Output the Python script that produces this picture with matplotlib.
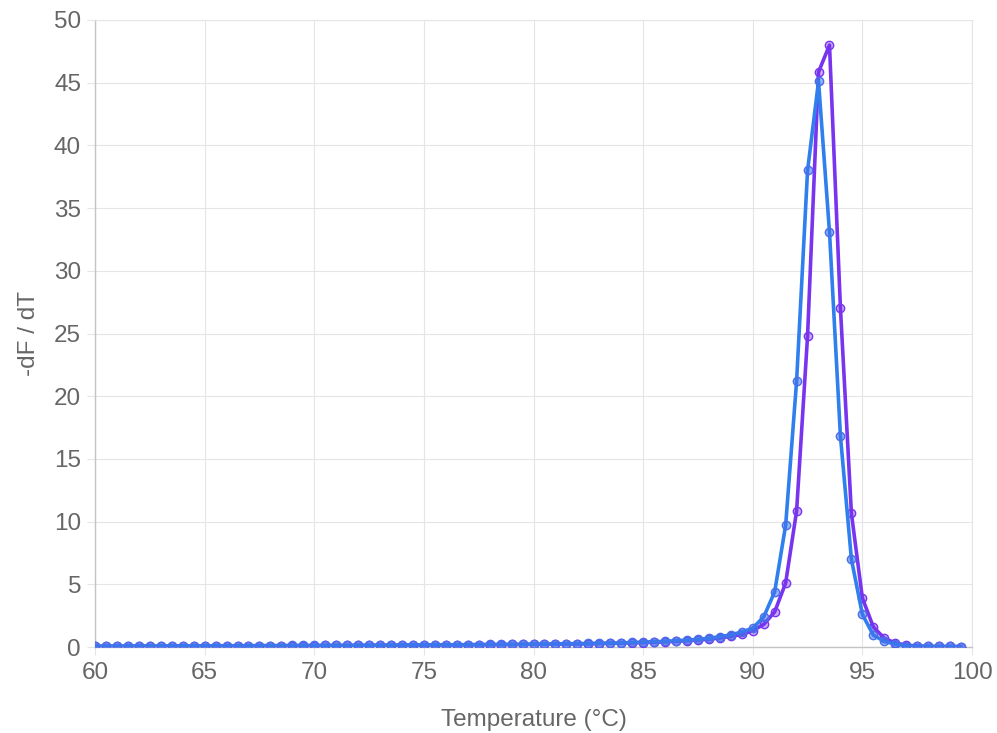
import matplotlib
matplotlib.use("Agg")
import matplotlib.pyplot as plt
import numpy as np

plt.rcParams['font.family'] = ['Liberation Sans', 'DejaVu Sans']

temperature = [60 + 0.5 * i for i in range(80)]

series_blue = [
    0.07, 0.07, 0.07, 0.08, 0.08, 0.08, 0.08, 0.09, 0.09, 0.09,
    0.09, 0.10, 0.10, 0.10, 0.10, 0.11, 0.11, 0.11, 0.12, 0.12,
    0.12, 0.13, 0.13, 0.13, 0.14, 0.14, 0.15, 0.15, 0.16, 0.16,
    0.17, 0.17, 0.18, 0.18, 0.19, 0.19, 0.20, 0.21, 0.21, 0.22,
    0.23, 0.24, 0.25, 0.26, 0.27, 0.28, 0.30, 0.31, 0.33, 0.36,
    0.39, 0.42, 0.45, 0.50, 0.55, 0.61, 0.70, 0.82, 0.97, 1.20,
    1.50, 2.40, 4.40, 9.70, 21.2, 38.0, 45.1, 33.1, 16.8, 7.00,
    2.60, 0.95, 0.45, 0.22, 0.10, 0.06, 0.05, 0.04, 0.04, 0.03,
]

series_purple = [
    0.06, 0.06, 0.06, 0.07, 0.07, 0.07, 0.07, 0.08, 0.08, 0.08,
    0.08, 0.09, 0.09, 0.09, 0.09, 0.10, 0.10, 0.10, 0.11, 0.11,
    0.11, 0.12, 0.12, 0.12, 0.13, 0.13, 0.14, 0.14, 0.15, 0.15,
    0.16, 0.16, 0.17, 0.17, 0.18, 0.18, 0.19, 0.19, 0.20, 0.20,
    0.21, 0.22, 0.23, 0.24, 0.25, 0.26, 0.27, 0.29, 0.31, 0.33,
    0.35, 0.38, 0.41, 0.45, 0.50, 0.55, 0.62, 0.72, 0.85, 1.00,
    1.30, 1.80, 2.80, 5.10, 10.85, 24.8, 45.85, 48.0, 27.0, 10.65,
    3.90, 1.60, 0.70, 0.32, 0.15, 0.08, 0.05, 0.04, 0.04, 0.03,
]

x_ticks = [60, 65, 70, 75, 80, 85, 90, 95, 100]
y_ticks = [0, 5, 10, 15, 20, 25, 30, 35, 40, 45, 50]

blue = '#2f7fee'
purple = '#7834ee'
grid_c = '#e5e5e5'
text_c = '#666666'

fig = plt.figure(figsize=(9.97, 7.33), dpi=100)
ax = fig.add_axes([95/997, 1 - 647/733, (972 - 95)/997, (647 - 20)/733])

ax.plot(temperature, series_purple, color=purple, lw=2.6, marker='o', ms=6,
        mfc=(0.47, 0.2, 0.93, 0.4), mec=purple, mew=1.0, zorder=3,
        solid_joinstyle='round', solid_capstyle='round')
ax.plot(temperature, series_blue, color=blue, lw=2.6, marker='o', ms=6,
        mfc=(0.25, 0.45, 0.93, 0.55), mec='#4a6fe8', mew=1.0, zorder=4,
        solid_joinstyle='round', solid_capstyle='round')

ax.set_xlim(60, 100)
ax.set_ylim(0, 50)
ax.set_xticks(x_ticks)
ax.set_yticks(y_ticks)
ax.grid(True, color=grid_c, lw=0.8, zorder=0)
ax.set_axisbelow(True)

for s in ['top', 'right']:
    ax.spines[s].set_color(grid_c)
    ax.spines[s].set_linewidth(0.8)
for s in ['left', 'bottom']:
    ax.spines[s].set_color('#c4c4c4')
    ax.spines[s].set_linewidth(1.0)

ax.tick_params(axis='both', colors=grid_c, length=6, width=0.8,
               labelcolor=text_c, labelsize=17.5)
ax.tick_params(axis='x', pad=5)
ax.tick_params(axis='y', pad=4)

ax.set_xlabel('Temperature (°C)', fontsize=17.5, color=text_c, labelpad=18)
ax.set_ylabel('-dF / dT', fontsize=17.5, color=text_c, labelpad=10)

fig.savefig('out.png', dpi=100)
